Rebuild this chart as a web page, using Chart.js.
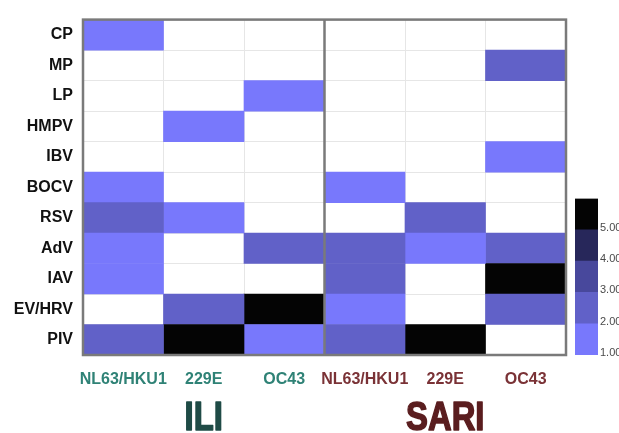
<!DOCTYPE html>
<html>
<head>
<meta charset="utf-8">
<script src="https://cdn.jsdelivr.net/npm/chart.js@4.4.1/dist/chart.umd.min.js"></script>
<style>
  body { margin: 0; background: #fff; }
  #wrap { position: relative; width: 619px; height: 433px; overflow: hidden; }
  #heat { position: absolute; left: 0; top: 0; }
  #bar { position: absolute; left: 575px; top: 190px; }
</style>
</head>
<body>
<div id="wrap">
  <canvas id="heat" width="619" height="433"></canvas>
  <canvas id="bar" width="44" height="175"></canvas>
</div>
<script>
// rows (respiratory viruses) top to bottom
const rows = ['CP', 'MP', 'LP', 'HMPV', 'IBV', 'BOCV', 'RSV', 'AdV', 'IAV', 'EV/HRV', 'PIV'];
// coronavirus columns, ILI then SARI
const columns = ['NL63/HKU1', '229E', 'OC43', 'NL63/HKU1', '229E', 'OC43'];
const groups = ['ILI', 'SARI'];

// cell values per column (0 = empty)
const iliNL63 = [1, 0, 0, 0, 0, 1, 2, 1, 1, 0, 2];
const ili229E = [0, 0, 0, 1, 0, 0, 1, 0, 0, 2, 5];
const iliOC43 = [0, 0, 1, 0, 0, 0, 0, 2, 0, 5, 1];
const sariNL63 = [0, 0, 0, 0, 0, 1, 0, 2, 2, 1, 2];
const sari229E = [0, 0, 0, 0, 0, 0, 2, 1, 0, 0, 5];
const sariOC43 = [0, 2, 0, 0, 1, 0, 0, 2, 5, 2, 0];

// colour scale
const scaleTicks = ['1.00', '2.00', '3.00', '4.00', '5.00'];
const scaleColors = ['#7878fc', '#6161c8', '#48489c', '#27275a', '#040404'];

const columnValues = [iliNL63, ili229E, iliOC43, sariNL63, sari229E, sariOC43];

function cellColor(v) {
  if (!v) return 'rgba(255,255,255,0)';
  return scaleColors[v - 1];
}

// frame, group divider and big group titles
const framePlugin = {
  id: 'frame',
  afterDatasetsDraw(chart) {
    const ctx = chart.ctx;
    const a = chart.chartArea;
    const x = chart.scales.x;
    ctx.save();
    ctx.strokeStyle = '#7a7a7a';
    ctx.lineWidth = 2.5;
    ctx.strokeRect(a.left, a.top, a.right - a.left, a.bottom - a.top);
    const mid = x.getPixelForValue(3);
    ctx.beginPath();
    ctx.moveTo(mid, a.top);
    ctx.lineTo(mid, a.bottom);
    ctx.stroke();
    ctx.restore();

    // narrow heavy titles: Arial bold squeezed horizontally, stroked to thicken
    const titleColors = ['#1f4b46', '#5a1d1f'];
    groups.forEach((g, i) => {
      ctx.save();
      ctx.translate(x.getPixelForValue(1.5 + i * 3), 430);
      ctx.scale(0.8, 1);
      ctx.font = 'bold 41px Arial, "Liberation Sans", sans-serif';
      ctx.textAlign = 'center';
      ctx.textBaseline = 'alphabetic';
      ctx.fillStyle = titleColors[i];
      ctx.strokeStyle = titleColors[i];
      ctx.lineWidth = 1.6;
      ctx.lineJoin = 'round';
      ctx.fillText(g, 0, 0);
      ctx.strokeText(g, 0, 0);
      ctx.restore();
    });
  }
};

new Chart('heat', {
  type: 'bar',
  data: {
    labels: rows,
    datasets: columnValues.map((vals, i) => ({
      label: columns[i],
      data: rows.map(() => 1),
      backgroundColor: vals.map(cellColor),
      borderWidth: 0,
      barPercentage: 1,
      categoryPercentage: 1,
      stack: 'cells'
    }))
  },
  options: {
    indexAxis: 'y',
    responsive: false,
    animation: false,
    devicePixelRatio: 1,
    layout: { padding: { top: 12, right: 53, left: 0, bottom: 0 } },
    plugins: { legend: { display: false }, tooltip: { enabled: false } },
    scales: {
      x: {
        type: 'linear', min: 0, max: 6, stacked: true,
        ticks: { display: false, stepSize: 1 },
        grid: { color: '#e6e6e6', drawTicks: false },
        border: { display: false },
        afterFit: s => { s.height = 0; }
      },
      x2: {
        type: 'linear', min: 0, max: 6, position: 'bottom',
        grid: { display: false },
        border: { display: false },
        afterBuildTicks: s => { s.ticks = columns.map((c, i) => ({ value: i + 0.5 })); },
        ticks: {
          autoSkip: false, maxRotation: 0, padding: 7,
          callback: (v, i) => columns[i],
          color: ctx => ctx.index < 3 ? '#2f8276' : '#7a3236',
          font: { family: 'Arial, "Liberation Sans", sans-serif', size: 16, weight: 'bold' }
        },
        afterFit: s => { s.height = 78; }
      },
      y: {
        stacked: true,
        grid: { color: '#e6e6e6', drawTicks: false, offset: true },
        border: { display: false },
        ticks: {
          padding: 10, color: '#111',
          font: { family: 'Arial, "Liberation Sans", sans-serif', size: 16, weight: 'bold' }
        },
        afterFit: s => { s.width = 83; }
      }
    }
  },
  plugins: [framePlugin]
});

// colour bar legend
new Chart('bar', {
  type: 'bar',
  data: {
    labels: ['scale'],
    datasets: scaleColors.map((c, i) => ({
      label: scaleTicks[i],
      data: [1],
      backgroundColor: c,
      borderWidth: 0,
      barPercentage: 1,
      categoryPercentage: 1,
      stack: 'bar'
    }))
  },
  options: {
    responsive: false,
    animation: false,
    devicePixelRatio: 1,
    layout: { padding: { top: 7, bottom: 10, left: 0, right: 0 } },
    plugins: { legend: { display: false }, tooltip: { enabled: false } },
    scales: {
      x: { display: false, stacked: true },
      y: {
        type: 'linear', min: 0, max: 5, stacked: true, position: 'right',
        grid: { display: false, drawTicks: false },
        border: { display: false },
        afterBuildTicks: s => { s.ticks = scaleTicks.map((t, i) => ({ value: i })); },
        ticks: {
          padding: 2, color: '#4a4a4a', labelOffset: -2,
          callback: (v, i) => scaleTicks[i],
          font: { family: 'Arial, "Liberation Sans", sans-serif', size: 11 }
        },
        afterFit: s => { s.width = 21; }
      }
    }
  }
});
</script>
</body>
</html>
